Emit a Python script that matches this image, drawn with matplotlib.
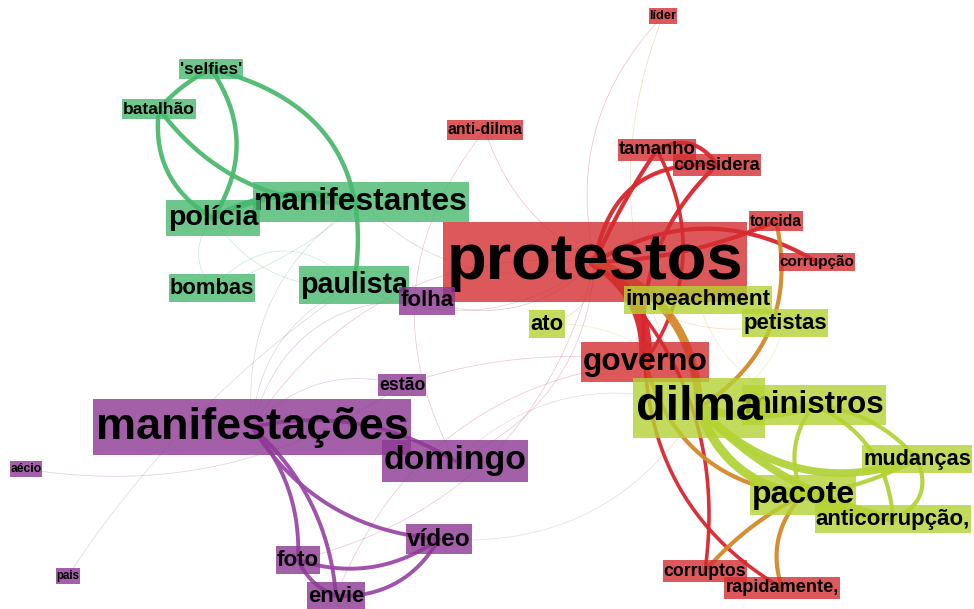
import numpy as np
import matplotlib.pyplot as plt
from matplotlib.colors import to_rgb
from matplotlib.patches import Rectangle

plt.rcParams['font.family'] = ['Liberation Sans', 'DejaVu Sans']

# nodes: label, position (px, y down), font size (pt), community
labels = ["'selfies'", "batalhão", "manifestantes", "polícia", "bombas", "paulista",
          "estão", "manifestações", "domingo", "vídeo", "foto", "envie", "aécio", "pais",
          "líder", "anti-dilma", "protestos", "tamanho", "considera", "torcida", "corrupção",
          "governo", "corruptos", "rapidamente,",
          "ato", "petistas", "impeachment", "ministros", "dilma", "mudanças", "pacote",
          "anticorrupção,", "folha"]
node_x = [211, 159, 361, 213, 212, 354,
          402, 252, 455, 439, 298, 336, 26, 68,
          663, 485, 595, 657, 717, 776, 817,
          645, 705, 782,
          547, 785, 698, 814, 699, 917, 803,
          893, 427]
node_y = [69, 109, 202, 218, 288, 285,
          385, 427, 461, 539, 560, 596, 469, 576,
          16, 130, 262, 150, 165, 221, 262,
          362, 571, 588,
          324, 323, 300, 405, 408, 459, 495,
          519, 301]
node_size = [12.4, 12.6, 22.9, 20.5, 15.8, 20.6,
             12.7, 32.5, 24.4, 17.6, 16, 15.8, 8.7, 8.3,
             9.2, 11.3, 47, 13.3, 13.2, 11.2, 11,
             22.8, 12.7, 13.1,
             15.8, 16, 16.2, 22.5, 35, 15.7, 23,
             16, 16]
node_group = ['g', 'g', 'g', 'g', 'g', 'g',
              'p', 'p', 'p', 'p', 'p', 'p', 'p', 'p',
              'r', 'r', 'r', 'r', 'r', 'r', 'r',
              'r', 'r', 'r',
              'y', 'y', 'y', 'y', 'y', 'y', 'y',
              'y', 'p']

# edges: source, target, weight (line width), bend
edge_src = ["'selfies'", "'selfies'", "'selfies'", "batalhão", "batalhão", "polícia",
            "manifestações", "manifestações", "manifestações", "manifestações",
            "foto", "foto", "envie",
            "protestos", "protestos", "protestos", "tamanho", "considera", "tamanho",
            "protestos", "protestos", "governo", "protestos",
            "protestos", "torcida", "governo", "pacote", "pacote",
            "dilma", "dilma", "dilma", "dilma", "ministros", "ministros", "ministros",
            "mudanças", "pacote", "pacote",
            "líder", "anti-dilma", "anti-dilma", "aécio", "pais", "estão", "bombas",
            "polícia", "manifestantes", "folha", "ato", "ato", "impeachment",
            "petistas", "manifestações", "domingo", "estão", "bombas", "vídeo",
            "paulista", "foto", "petistas", "impeachment", "líder", "manifestações",
            "domingo", "folha", "bombas", "paulista", "envie"]
edge_dst = ["batalhão", "polícia", "paulista", "polícia", "manifestantes", "manifestantes",
            "domingo", "vídeo", "foto", "envie",
            "vídeo", "envie", "vídeo",
            "governo", "tamanho", "considera", "considera", "governo", "governo",
            "corrupção", "torcida", "rapidamente,", "corruptos",
            "dilma", "dilma", "pacote", "corruptos", "rapidamente,",
            "ministros", "mudanças", "pacote", "anticorrupção,", "anticorrupção,", "pacote",
            "mudanças",
            "anticorrupção,", "mudanças", "anticorrupção,",
            "protestos", "protestos", "domingo", "estão", "paulista", "governo", "manifestantes",
            "paulista", "protestos", "protestos", "protestos", "dilma", "protestos",
            "protestos", "protestos", "protestos", "manifestações", "polícia", "dilma",
            "manifestações", "protestos", "dilma", "ministros", "dilma", "manifestantes",
            "dilma", "manifestações", "paulista", "protestos", "governo"]
edge_w = [3.2, 3.2, 3.2, 3.2, 3.2, 4.5,
          2.8, 2.8, 2.8, 2.8,
          2.8, 2.8, 2.8,
          9, 3, 3, 3, 3, 2.6,
          3, 3, 2.6, 2.6,
          6, 3, 3, 3, 3,
          6, 5.5, 6.5, 5.5, 3, 3, 3,
          3, 3, 5,
          0.5, 0.5, 0.5, 0.5, 0.5, 0.5, 0.5,
          0.5, 0.5, 0.5, 0.5, 0.5, 0.5,
          0.5, 0.5, 0.5, 0.5, 0.5, 0.5,
          0.5, 0.5, 0.5, 0.5, 0.5, 0.5,
          0.5, 0.5, 0.5, 0.5, 0.5]
edge_bend = [0.1, -0.33, -0.46, 0.33, 0.27, -0.2,
             -0.2, 0.25, -0.2, -0.2,
             0.25, 0.2, 0.3,
             -0.3, -0.05, -0.45, -0.45, 0.25, -0.3,
             -0.3, 0.1, 0.27, -0.26,
             -0.33, -0.35, 0.34, 0.1, 0.3,
             0.15, 0.32, 0.3, 0.15, -0.3, 0.3, -0.2,
             -0.5, 0.1, 0.1,
             0.27, 0.2, 0.33, 0.2, -0.1, -0.12, 0.1,
             0.3, 0.3, 0.3, 0.4, -0.3, 0.3,
             -0.3, -0.3, 0.3, 0.3, -0.4, 0.3,
             0.3, 0.3, -0.3, 0.3, 0.25, -0.3,
             -0.3, 0.4, -0.5, 0.3, -0.3]

# box colours are drawn at 80% opacity, like the label backgrounds in the reference
box_color = {'g': '#48b870', 'p': '#8c3892', 'r': '#d42e31', 'y': '#b5d333'}
line_color = {'g': '#4cba6e', 'p': '#9a4aa6', 'r': '#d8262e', 'y': '#b2d33a'}


def edge_color(a, b):
    if a == b:
        return line_color[a]
    if {a, b} == {'r', 'y'}:
        return '#d4882a'
    return tuple((np.array(to_rgb(line_color[a])) + np.array(to_rgb(line_color[b]))) / 2)


pos = {lab: (x, y) for lab, x, y in zip(labels, node_x, node_y)}
grp = dict(zip(labels, node_group))

fig = plt.figure(figsize=(9.74, 6.09), dpi=100)
ax = fig.add_axes([0, 0, 1, 1])
ax.set_xlim(0, 974)
ax.set_ylim(609, 0)
ax.axis('off')

t = np.linspace(0, 1, 80)[:, None]
for s, d, w, b in zip(edge_src, edge_dst, edge_w, edge_bend):
    p0 = np.array(pos[s], float)
    p1 = np.array(pos[d], float)
    dx, dy = p1 - p0
    c = (p0 + p1) / 2 + b * np.array([-dy, dx])
    pts = (1 - t) ** 2 * p0 + 2 * t * (1 - t) * c + t ** 2 * p1
    col = edge_color(grp[s], grp[d])
    alpha = 0.3 if w < 1 else 0.95
    ax.plot(pts[:, 0], pts[:, 1], color=col, lw=w, alpha=alpha,
            solid_capstyle='round', zorder=1)

texts = []
for i, lab in enumerate(labels):
    texts.append(ax.text(node_x[i], node_y[i], lab, fontsize=node_size[i],
                         fontweight='bold', ha='center', va='center',
                         color='black', zorder=3 + 2 * i))

# label boxes sized from the rendered text
fig.canvas.draw()
renderer = fig.canvas.get_renderer()
inv = ax.transData.inverted()
for i, txt in enumerate(texts):
    bb = txt.get_window_extent(renderer)
    (x0, y0), (x1, y1) = inv.transform([[bb.x0, bb.y0], [bb.x1, bb.y1]])
    em = node_size[i] * 100 / 72
    padx = 0.05 * em
    pady = 0.16 * em
    left, right = min(x0, x1) - padx, max(x0, x1) + padx
    top, bottom = min(y0, y1) - pady, max(y0, y1) + pady
    fc = box_color[node_group[i]]
    ax.add_patch(Rectangle((left, top), right - left, bottom - top, fc=fc, ec='none',
                           alpha=0.8, zorder=2 + 2 * i))

plt.savefig("out.png", dpi=100)
plt.close()
